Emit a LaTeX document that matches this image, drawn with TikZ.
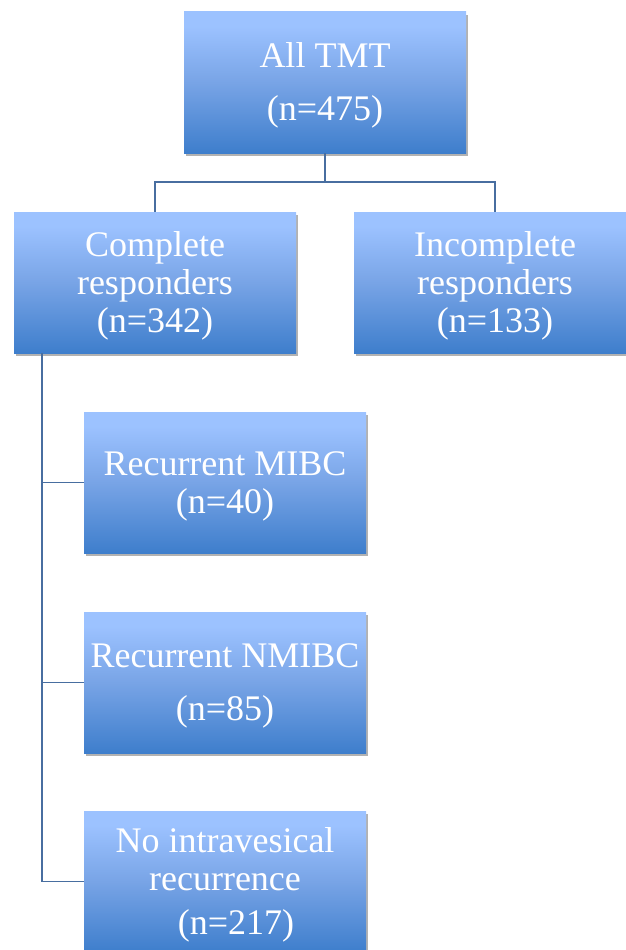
\documentclass[tikz,border=0pt]{standalone}
\usepackage{fontspec}
\setmainfont{Liberation Serif}
\usetikzlibrary{shadows,positioning}
\definecolor{boxtop}{RGB}{156,194,255}
\definecolor{boxmid}{RGB}{120,164,230}
\definecolor{boxbot}{RGB}{62,126,204}
\definecolor{linecol}{RGB}{72,110,160}
\newcommand\mytopstrut{\rule{0pt}{31pt}}
\pgfdeclareverticalshading{boxshade}{100bp}{color(0bp)=(boxbot); color(25bp)=(boxbot); color(50bp)=(boxmid); color(70bp)=(boxtop); color(75bp)=(boxtop); color(100bp)=(boxtop)}
\tikzset{
  fbox/.style={rectangle, minimum width=282pt, minimum height=141pt, inner sep=0pt,
    shading=boxshade, text=white, align=center,
    font=\fontsize{36}{38}\selectfont,
    drop shadow={shadow xshift=2pt, shadow yshift=-3pt, opacity=0.3, fill=black}},
  conn/.style={draw=linecol, line width=1.6pt}
}
\begin{document}
\begin{tikzpicture}[x=1pt,y=-1pt]
\useasboundingbox (0,0) rectangle (626,950);
\clip (0,0) rectangle (626,950);
\node[fbox] (all) at (325,82.5) {\mytopstrut All TMT\\[15pt](n=475)};
\node[fbox] (comp) at (155,282.5) {\mytopstrut Complete\\responders\\(n=342)};
\node[fbox] (incomp) at (495,282.5) {\mytopstrut Incomplete\\responders\\(n=133)};
\node[fbox] (mibc) at (225,482.5) {\mytopstrut Recurrent MIBC\\(n=40)};
\node[fbox] (nmibc) at (225,682.5) {\mytopstrut Recurrent NMIBC\\[15pt](n=85)};
\node[fbox] (norec) at (225,881.5) {\mytopstrut No intravesical\\recurrence\\[6pt]\hspace*{22pt}(n=217)};
\coordinate (split) at ([yshift=-29pt]all.south);
\draw[conn] (all.south) -- (split);
\draw[conn] (split) -| (comp.north);
\draw[conn] (split) -| (incomp.north);
\coordinate (trunk) at ([xshift=28pt]comp.south west);
\draw[conn] (trunk) |- (norec.west);
\draw[conn] (trunk) |- (mibc.west);
\draw[conn] (trunk) |- (nmibc.west);
\end{tikzpicture}
\end{document}
